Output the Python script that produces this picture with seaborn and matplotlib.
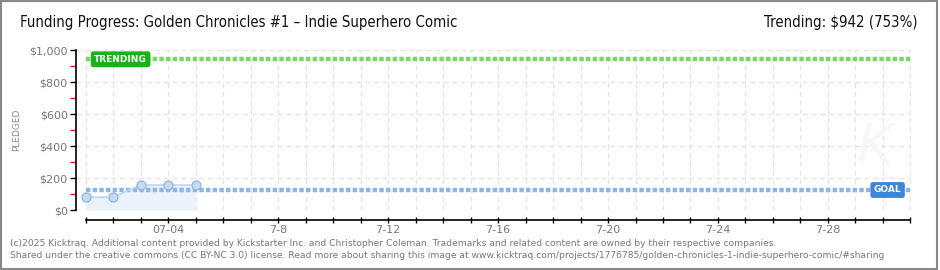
import matplotlib
matplotlib.use("Agg")
import matplotlib.pyplot as plt
import matplotlib.ticker as mticker
from matplotlib.patches import Rectangle
import seaborn as sns
import pandas as pd

# ---- data ----
days = [0, 1, 2, 3, 4]                 # days since July 1
pledged = [80, 80, 156, 156, 156]
goal = 125
trending = 942
trend_pct = 753
x_end_day = 30
label_days = [3, 7, 11, 15, 19, 23, 27]
label_text = ["07-04", "7-8", "7-12", "7-16", "7-20", "7-24", "7-28"]
y_ticks = [0, 200, 400, 600, 800, 1000]
y_labels = ["$0", "$200", "$400", "$600", "$800", "$1,000"]
y_minor = [100, 300, 500, 700, 900]

title = "Funding Progress: Golden Chronicles #1 \u2013 Indie Superhero Comic"
footer1 = ("(c)2025 Kicktraq. Additional content provided by Kickstarter Inc. and Christopher Coleman. "
           "Trademarks and related content are owned by their respective companies.")
footer2 = ("Shared under the creative commons (CC BY-NC 3.0) license. Read more about sharing this image at "
           "www.kicktraq.com/projects/1776785/golden-chronicles-1-indie-superhero-comic/#sharing")

df = pd.DataFrame({"day": days, "pledged": pledged})

sns.set_style("white")
plt.rcParams["font.family"] = ["DejaVu Sans"]

W, H = 940, 270
fig = plt.figure(figsize=(W / 100, H / 100), dpi=100)
left_px, right_px, top_px, bot_px = 76, 910.7, 50, 210
ax = fig.add_axes([left_px / W, 1 - bot_px / H, (right_px - left_px) / W, (bot_px - top_px) / H])

px_per_day = 27.5
x0 = -(85.7 - left_px) / px_per_day
ax.set_xlim(x0, x_end_day + 0.01)
ax.set_ylim(0, 1000)

# grid
ax.xaxis.set_major_locator(mticker.FixedLocator(label_days))
ax.xaxis.set_minor_locator(mticker.FixedLocator([d for d in range(0, x_end_day + 1) if d not in label_days]))
ax.set_xticklabels(label_text)
ax.yaxis.set_major_locator(mticker.FixedLocator(y_ticks))
ax.yaxis.set_minor_locator(mticker.FixedLocator(y_minor))
ax.set_yticklabels(y_labels)
ax.grid(True, which="both", axis="x", color="#e4e4e4", linestyle=(0, (4, 3)), linewidth=0.9)
ax.grid(True, which="major", axis="y", color="#e4e4e4", linestyle=(0, (4, 3)), linewidth=0.9)
ax.set_axisbelow(True)

# spines
for s in ["top", "right"]:
    ax.spines[s].set_visible(False)
ax.spines["bottom"].set_position(("outward", 7))
ax.spines["bottom"].set_bounds(0, x_end_day)
ax.spines["left"].set_bounds(0, 1000)
ax.spines["left"].set_color("black")
ax.spines["bottom"].set_color("black")
ax.spines["left"].set_linewidth(1.2)
ax.spines["bottom"].set_linewidth(1.2)

ax.tick_params(axis="x", which="both", bottom=True, direction="inout", length=5, width=1, color="black",
               labelsize=8, labelcolor="#777777", pad=1)
ax.tick_params(axis="y", which="major", left=True, direction="out", length=4, width=1, color="black",
               labelsize=8, labelcolor="#777777", pad=2)
ax.tick_params(axis="y", which="minor", left=True, direction="out", length=4, width=1, color="red")

# data area
ax.fill_between(days, pledged, 0, color="#eaf2fc", zorder=2, linewidth=0)
sns.lineplot(data=df, x="day", y="pledged", ax=ax, color="#bcd5f0", linewidth=1.2,
             marker="o", markersize=6.5, markerfacecolor="#c3dbf5", markeredgecolor="#8fb0d6",
             markeredgewidth=0.8, zorder=4)
ax.set_xlabel("")
ax.set_ylabel("PLEDGED", fontsize=6.5, color="#888888", labelpad=6)

# goal & trending lines
ax.hlines(goal, 0, x_end_day, color="#8db6e3", linewidth=3.2, linestyle=(0, (1, 0.5)), zorder=3)
ax.hlines(trending, 0, x_end_day, color="#7bd666", linewidth=3.2, linestyle=(0, (1, 0.5)), zorder=3)

ax.text(1.27, trending, "TRENDING", color="white", fontsize=6.5, fontweight="bold",
        ha="center", va="center", zorder=6,
        bbox=dict(boxstyle="round,pad=0.3,rounding_size=0.2", fc="#19b319", ec="#19b319"))
ax.text(29.17, goal, "GOAL", color="white", fontsize=6.5, fontweight="bold",
        ha="center", va="center", zorder=6,
        bbox=dict(boxstyle="round,pad=0.3,rounding_size=0.2", fc="#3d87d6", ec="#3d87d6"))

# watermark
ax.text(28.7, 390, "K", fontsize=40, fontstyle="italic", color="#f7f7f7", ha="center", va="center", zorder=1)

# texts
fig.text(20 / W, 1 - 23 / H, title, fontsize=10.7, fontstretch="condensed",
         color="#111111", ha="left", va="center")
fig.text(917 / W, 1 - 23 / H, "Trending: $%d (%d%%)" % (trending, trend_pct), fontsize=10.7,
         fontstretch="condensed", color="#111111", ha="right", va="center")
fig.text(10 / W, 1 - 243 / H, footer1, fontsize=6.6, color="#777777", ha="left", va="center")
fig.text(10 / W, 1 - 256 / H, footer2, fontsize=6.6, color="#777777", ha="left", va="center")

fig.add_artist(Rectangle((0.5 / W, 1 / H), 936 / W, 268 / H, transform=fig.transFigure,
                         fill=False, edgecolor="#888888", linewidth=1.5))

fig.savefig("out.png", dpi=100)
